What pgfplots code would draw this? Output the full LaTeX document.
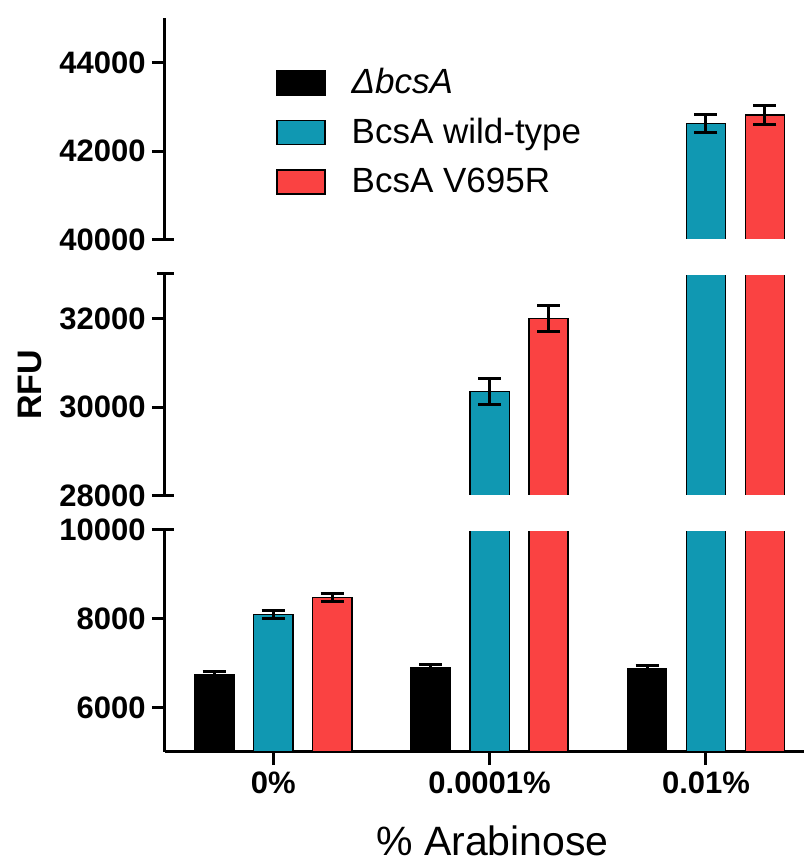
\documentclass[border=0pt]{standalone}
\usepackage{pgfplots}
\pgfplotsset{compat=1.18}
\usepackage{fontspec}
\setmainfont{Liberation Sans}
\definecolor{tealbar}{RGB}{16,152,178}
\definecolor{redbar}{RGB}{250,66,66}

\pgfplotstableread{
x black blackerr teal tealerr red rederr
0 6730 80 8100 90 8480 80
1 6900 60 30350 300 32000 300
2 6880 60 42620 210 42820 220
}\datatable

\pgfplotsset{
 segment/.style={
  scale only axis, width=319.5pt, height=111pt,
  xmin=-0.5, xmax=2.453,
  ybar, bar width=0.182,
  axis y line*=left,
  axis line style={line width=1.5pt},
  every tick/.style={line width=1.5pt, black},
  tick align=outside,
  major tick length=6.5pt,
  yticklabel style={font=\bfseries\fontsize{15.5}{18}\selectfont, inner sep=0pt, xshift=-3pt},
  /pgf/number format/assume math mode=true,
  /pgf/number format/1000 sep={},
  scaled y ticks=false,
  clip mode=individual,
  unbounded coords=discard,
  every axis plot post/.append style={legend image code/.code={\draw[##1, line width=0.75pt] (0pt,-6pt) rectangle (24pt,6pt);}},
 },
 blacklegimg/.style={fill=black, draw=black, line width=0.75pt,
   legend image code/.code={\draw[##1] (0pt,-7.5pt) rectangle (24pt,7.5pt);}},
 dropbelow/.style={y filter/.expression={y<#1 ? nan : y}},
 ebars/.style={error bars/.cd, y dir=both, y explicit,
   error bar style={line width=1.5pt, black},
   error mark options={rotate=90, mark size=5.75pt, line width=1.5pt, black}},
 blackbar/.style={fill=black, draw=black, line width=0.75pt, bar shift=-0.2725},
 tealbar/.style={fill=tealbar, draw=black, line width=0.75pt, bar shift=0},
 redbar/.style={fill=redbar, draw=black, line width=0.75pt, bar shift=0.2725},
}

\begin{document}
\begin{tikzpicture}
% bottom segment
\begin{axis}[segment, at={(82.5pt,55.5pt)}, anchor=south west,
  ymin=5000, ymax=10000, ytick={6000,8000,10000},
  axis x line*=bottom,
  xtick={0,1,2}, xticklabels={0\%,0.0001\%,0.01\%},
  xticklabel style={font=\bfseries\fontsize{15.5}{18}\selectfont},
  xlabel={\% Arabinose},
  xlabel style={at={(axis description cs:0.5125,-0.466)}, anchor=base, font=\fontsize{20.5}{24}\selectfont},
]
\addplot[blackbar, ebars] table[x=x, y=black, y error=blackerr] {\datatable};
\addplot[tealbar, ebars] table[x=x, y=teal, y error=tealerr] {\datatable};
\addplot[redbar, ebars] table[x=x, y=red, y error=rederr] {\datatable};
\fill[white] ([xshift=5pt,yshift=-0.5pt]rel axis cs:0,1) rectangle ([yshift=1pt]rel axis cs:1,1);
\draw[line width=1.5pt] (rel axis cs:0,1) -- ([xshift=4.5pt]rel axis cs:0,1);
\end{axis}
% middle segment
\begin{axis}[segment, at={(82.5pt,183.5pt)}, anchor=south west,
  ymin=28000, ymax=33000, ytick={28000,30000,32000},
  axis x line=none,
  ylabel={RFU},
  ylabel style={at={(axis description cs:-0.211,0.5)}, anchor=center, font=\bfseries\fontsize{17}{20}\selectfont},
]
\addplot[tealbar, dropbelow=28000, ebars] table[x=x, y=teal, y error=tealerr] {\datatable};
\addplot[redbar, dropbelow=28000, ebars] table[x=x, y=red, y error=rederr] {\datatable};
\fill[white] ([xshift=5pt,yshift=-1pt]rel axis cs:0,0) rectangle ([yshift=0.5pt]rel axis cs:1,0);
\fill[white] ([xshift=5pt,yshift=-0.5pt]rel axis cs:0,1) rectangle ([yshift=1pt]rel axis cs:1,1);
\draw[line width=1.5pt] (rel axis cs:0,0) -- ([xshift=4.5pt]rel axis cs:0,0);
\draw[line width=1.5pt] ([xshift=-4pt]rel axis cs:0,1) -- ([xshift=4.5pt]rel axis cs:0,1);
\end{axis}
% top segment
\begin{axis}[segment, at={(82.5pt,311.5pt)}, anchor=south west,
  ymin=40000, ymax=45000, ytick={40000,42000,44000},
  axis x line=none,
  legend style={draw=none, fill=none, at={(axis description cs:0.164,0.81)}, anchor=north west,
    font=\fontsize{17.5}{20}\selectfont, row sep=6.8pt,
    /tikz/every odd column/.append style={column sep=11pt}},
  legend cell align=left,
]
\addlegendimage{blacklegimg}
\addlegendentry{\textit{ΔbcsA}}
\addplot[tealbar, dropbelow=40000, ebars] table[x=x, y=teal, y error=tealerr] {\datatable};
\addlegendentry{BcsA wild-type}
\addplot[redbar, dropbelow=40000, ebars] table[x=x, y=red, y error=rederr] {\datatable};
\addlegendentry{BcsA V695R}
\fill[white] ([xshift=5pt,yshift=-1pt]rel axis cs:0,0) rectangle ([yshift=0.5pt]rel axis cs:1,0);
\draw[line width=1.5pt] (rel axis cs:0,0) -- ([xshift=4.5pt]rel axis cs:0,0);
\end{axis}
\pgfresetboundingbox
\path[use as bounding box] (0,0) rectangle (402pt,431.5pt);
\end{tikzpicture}
\end{document}
